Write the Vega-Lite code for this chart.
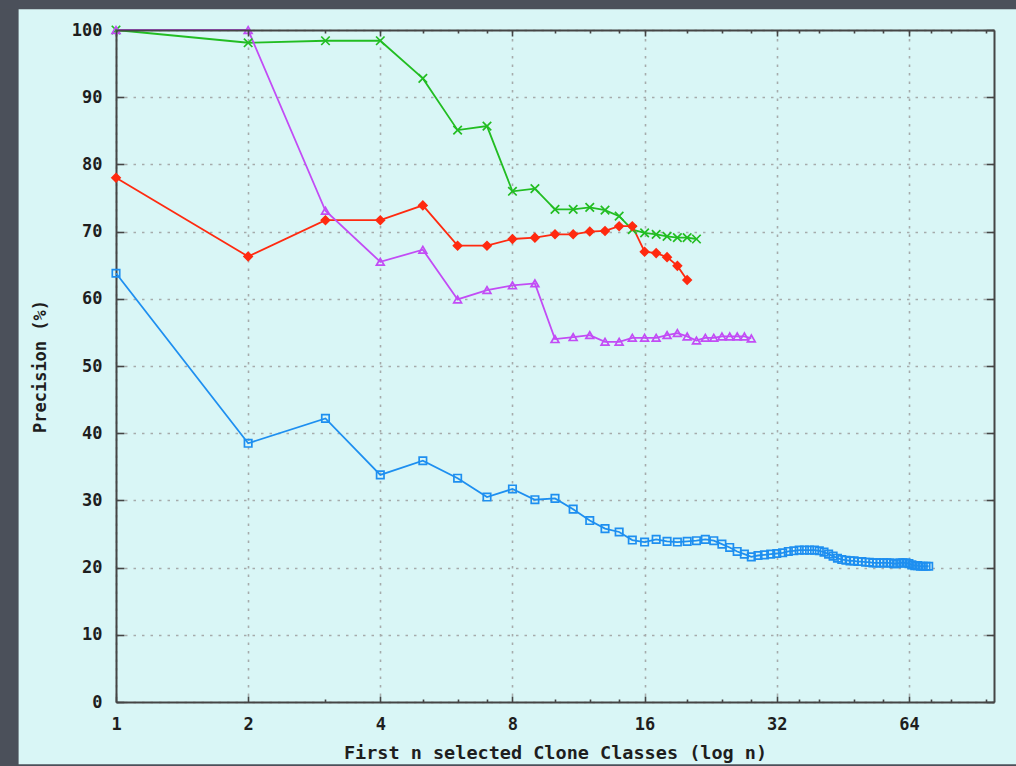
{
  "$schema": "https://vega.github.io/schema/vega-lite/v6.json",
  "width": 878,
  "height": 672,
  "padding": {"left": 116, "top": 30, "right": 22, "bottom": 64},
  "autosize": {"type": "none"},
  "background": "#d9f6f6",
  "config": {
    "view": {"stroke": null},
    "axis": {
      "domainColor": "#454545",
      "domainWidth": 2,
      "tickColor": "#454545",
      "tickWidth": 1.6,
      "gridColor": "#a6abab",
      "gridDash": [2.5, 6],
      "gridWidth": 1.6,
      "labelFont": "DejaVu Sans Mono",
      "labelFontSize": 17,
      "labelFontWeight": "bold",
      "labelColor": "#1e1e1e",
      "titleFont": "DejaVu Sans Mono",
      "titleFontSize": 17,
      "titleFontWeight": "bold",
      "titleColor": "#1e1e1e",
      "labelOverlap": false,
      "labelFlush": false
    }
  },
  "datasets": {
    "prec": [
      {"series": "green", "n": 1, "precision": 100},
      {"series": "green", "n": 2, "precision": 98.1},
      {"series": "green", "n": 3, "precision": 98.4},
      {"series": "green", "n": 4, "precision": 98.4},
      {"series": "green", "n": 5, "precision": 92.8},
      {"series": "green", "n": 6, "precision": 85.1},
      {"series": "green", "n": 7, "precision": 85.7},
      {"series": "green", "n": 8, "precision": 76.0},
      {"series": "green", "n": 9, "precision": 76.4},
      {"series": "green", "n": 10, "precision": 73.3},
      {"series": "green", "n": 11, "precision": 73.3},
      {"series": "green", "n": 12, "precision": 73.6},
      {"series": "green", "n": 13, "precision": 73.2},
      {"series": "green", "n": 14, "precision": 72.3},
      {"series": "green", "n": 15, "precision": 70.3},
      {"series": "green", "n": 16, "precision": 69.8},
      {"series": "green", "n": 17, "precision": 69.6},
      {"series": "green", "n": 18, "precision": 69.3},
      {"series": "green", "n": 19, "precision": 69.1},
      {"series": "green", "n": 20, "precision": 69.1},
      {"series": "green", "n": 21, "precision": 68.9},
      {"series": "red", "n": 1, "precision": 78.0},
      {"series": "red", "n": 2, "precision": 66.3},
      {"series": "red", "n": 3, "precision": 71.7},
      {"series": "red", "n": 4, "precision": 71.7},
      {"series": "red", "n": 5, "precision": 73.9},
      {"series": "red", "n": 6, "precision": 67.9},
      {"series": "red", "n": 7, "precision": 67.9},
      {"series": "red", "n": 8, "precision": 68.9},
      {"series": "red", "n": 9, "precision": 69.1},
      {"series": "red", "n": 10, "precision": 69.6},
      {"series": "red", "n": 11, "precision": 69.6},
      {"series": "red", "n": 12, "precision": 70.0},
      {"series": "red", "n": 13, "precision": 70.1},
      {"series": "red", "n": 14, "precision": 70.8},
      {"series": "red", "n": 15, "precision": 70.8},
      {"series": "red", "n": 16, "precision": 67.0},
      {"series": "red", "n": 17, "precision": 66.8},
      {"series": "red", "n": 18, "precision": 66.2},
      {"series": "red", "n": 19, "precision": 64.9},
      {"series": "red", "n": 20, "precision": 62.8},
      {"series": "purple", "n": 1, "precision": 100},
      {"series": "purple", "n": 2, "precision": 100},
      {"series": "purple", "n": 3, "precision": 73.1},
      {"series": "purple", "n": 4, "precision": 65.5},
      {"series": "purple", "n": 5, "precision": 67.3},
      {"series": "purple", "n": 6, "precision": 59.9},
      {"series": "purple", "n": 7, "precision": 61.3},
      {"series": "purple", "n": 8, "precision": 62.0},
      {"series": "purple", "n": 9, "precision": 62.3},
      {"series": "purple", "n": 10, "precision": 54.0},
      {"series": "purple", "n": 11, "precision": 54.3},
      {"series": "purple", "n": 12, "precision": 54.6},
      {"series": "purple", "n": 13, "precision": 53.6},
      {"series": "purple", "n": 14, "precision": 53.6},
      {"series": "purple", "n": 15, "precision": 54.2},
      {"series": "purple", "n": 16, "precision": 54.2},
      {"series": "purple", "n": 17, "precision": 54.2},
      {"series": "purple", "n": 18, "precision": 54.6},
      {"series": "purple", "n": 19, "precision": 54.9},
      {"series": "purple", "n": 20, "precision": 54.4},
      {"series": "purple", "n": 21, "precision": 53.8},
      {"series": "purple", "n": 22, "precision": 54.2},
      {"series": "purple", "n": 23, "precision": 54.2},
      {"series": "purple", "n": 24, "precision": 54.4},
      {"series": "purple", "n": 25, "precision": 54.4},
      {"series": "purple", "n": 26, "precision": 54.4},
      {"series": "purple", "n": 27, "precision": 54.4},
      {"series": "purple", "n": 28, "precision": 54.1},
      {"series": "blue", "n": 1, "precision": 63.8},
      {"series": "blue", "n": 2, "precision": 38.5},
      {"series": "blue", "n": 3, "precision": 42.2},
      {"series": "blue", "n": 4, "precision": 33.8},
      {"series": "blue", "n": 5, "precision": 35.9},
      {"series": "blue", "n": 6, "precision": 33.3},
      {"series": "blue", "n": 7, "precision": 30.5},
      {"series": "blue", "n": 8, "precision": 31.7},
      {"series": "blue", "n": 9, "precision": 30.1},
      {"series": "blue", "n": 10, "precision": 30.3},
      {"series": "blue", "n": 11, "precision": 28.7},
      {"series": "blue", "n": 12, "precision": 27.0},
      {"series": "blue", "n": 13, "precision": 25.8},
      {"series": "blue", "n": 14, "precision": 25.3},
      {"series": "blue", "n": 15, "precision": 24.1},
      {"series": "blue", "n": 16, "precision": 23.8},
      {"series": "blue", "n": 17, "precision": 24.2},
      {"series": "blue", "n": 18, "precision": 23.9},
      {"series": "blue", "n": 19, "precision": 23.8},
      {"series": "blue", "n": 20, "precision": 23.9},
      {"series": "blue", "n": 21, "precision": 24.0},
      {"series": "blue", "n": 22, "precision": 24.2},
      {"series": "blue", "n": 23, "precision": 24.0},
      {"series": "blue", "n": 24, "precision": 23.5},
      {"series": "blue", "n": 25, "precision": 23.0},
      {"series": "blue", "n": 26, "precision": 22.4},
      {"series": "blue", "n": 27, "precision": 22.0},
      {"series": "blue", "n": 28, "precision": 21.6},
      {"series": "blue", "n": 29, "precision": 21.8},
      {"series": "blue", "n": 30, "precision": 21.9},
      {"series": "blue", "n": 31, "precision": 22.0},
      {"series": "blue", "n": 32, "precision": 22.1},
      {"series": "blue", "n": 33, "precision": 22.2},
      {"series": "blue", "n": 34, "precision": 22.4},
      {"series": "blue", "n": 35, "precision": 22.5},
      {"series": "blue", "n": 36, "precision": 22.6},
      {"series": "blue", "n": 37, "precision": 22.6},
      {"series": "blue", "n": 38, "precision": 22.6},
      {"series": "blue", "n": 39, "precision": 22.6},
      {"series": "blue", "n": 40, "precision": 22.5},
      {"series": "blue", "n": 41, "precision": 22.3},
      {"series": "blue", "n": 42, "precision": 22.0},
      {"series": "blue", "n": 43, "precision": 21.7},
      {"series": "blue", "n": 44, "precision": 21.4},
      {"series": "blue", "n": 45, "precision": 21.2},
      {"series": "blue", "n": 46, "precision": 21.1},
      {"series": "blue", "n": 47, "precision": 21.0},
      {"series": "blue", "n": 48, "precision": 21.0},
      {"series": "blue", "n": 49, "precision": 20.9},
      {"series": "blue", "n": 50, "precision": 20.9},
      {"series": "blue", "n": 51, "precision": 20.8},
      {"series": "blue", "n": 52, "precision": 20.8},
      {"series": "blue", "n": 53, "precision": 20.7},
      {"series": "blue", "n": 54, "precision": 20.7},
      {"series": "blue", "n": 55, "precision": 20.7},
      {"series": "blue", "n": 56, "precision": 20.7},
      {"series": "blue", "n": 57, "precision": 20.7},
      {"series": "blue", "n": 58, "precision": 20.7},
      {"series": "blue", "n": 59, "precision": 20.6},
      {"series": "blue", "n": 60, "precision": 20.6},
      {"series": "blue", "n": 61, "precision": 20.7},
      {"series": "blue", "n": 62, "precision": 20.7},
      {"series": "blue", "n": 63, "precision": 20.7},
      {"series": "blue", "n": 64, "precision": 20.6},
      {"series": "blue", "n": 65, "precision": 20.4},
      {"series": "blue", "n": 66, "precision": 20.3},
      {"series": "blue", "n": 67, "precision": 20.3},
      {"series": "blue", "n": 68, "precision": 20.2},
      {"series": "blue", "n": 69, "precision": 20.2},
      {"series": "blue", "n": 70, "precision": 20.2},
      {"series": "blue", "n": 71, "precision": 20.2}
    ]
  },
  "layer": [
    {
      "data": {"values": [{}]},
      "mark": {"type": "rect", "color": "#4b505a"},
      "encoding": {
        "x": {"datum": 0.4, "type": "quantitative", "scale": {"type": "log", "base": 2, "domain": [1, 100], "nice": false}, "axis": null},
        "x2": {"datum": 0.6},
        "y": {"datum": 115, "type": "quantitative", "scale": {"domain": [0, 100], "nice": false}, "axis": null},
        "y2": {"datum": -15}
      }
    },
    {
      "data": {"values": [{}]},
      "mark": {"type": "rect", "color": "#4b505a"},
      "encoding": {
        "x": {"datum": 0.4, "type": "quantitative", "axis": null},
        "x2": {"datum": 200},
        "y": {"datum": 115, "type": "quantitative", "axis": null},
        "y2": {"datum": 103.1}
      }
    },
    {
      "data": {"values": [{}]},
      "mark": {"type": "rect", "color": "#4b505a"},
      "encoding": {
        "x": {"datum": 0.4, "type": "quantitative", "axis": null},
        "x2": {"datum": 200},
        "y": {"datum": -9.25, "type": "quantitative", "axis": null},
        "y2": {"datum": -15}
      }
    },
    {
      "data": {"name": "prec"},
      "mark": {"type": "line", "strokeWidth": 1.8},
      "encoding": {
        "x": {
          "field": "n", "type": "quantitative",
          "scale": {"type": "log", "base": 2, "domain": [1, 100], "nice": false},
          "axis": {
            "orient": "bottom",
            "grid": true,
            "title": "First n selected Clone Classes (log n)",
            "titleFontSize": 18.5,
            "titlePadding": 8,
            "values": [1, 2, 3, 4, 5, 6, 7, 8, 10, 12, 14, 16, 20, 24, 28, 32, 36, 40, 48, 56, 64, 72, 80, 96],
            "format": "d",
            "labelExpr": "indexof([1, 2, 4, 8, 16, 32, 64], datum.value) >= 0 ? datum.label : ''",
            "gridOpacity": {"condition": {"test": "indexof([1, 2, 4, 8, 16, 32, 64], datum.value) >= 0", "value": 1}, "value": 0},
            "tickSize": {"condition": {"test": "indexof([1, 2, 4, 8, 16, 32, 64], datum.value) >= 0", "value": -6}, "value": -3},
            "labelPadding": 20,
            "labelDx": 4
          }
        },
        "y": {
          "field": "precision", "type": "quantitative",
          "scale": {"domain": [0, 100], "nice": false},
          "axis": {
            "orient": "left",
            "grid": true,
            "title": "Precision (%)",
            "titlePadding": 22,
            "values": [0, 10, 20, 30, 40, 50, 60, 70, 80, 90, 100],
            "tickSize": -8,
            "labelPadding": 22
          }
        },
        "color": {
          "field": "series", "type": "nominal",
          "scale": {"domain": ["green", "red", "purple", "blue"], "range": ["#22bd22", "#ff2a10", "#c24cf5", "#1e8ff0"]},
          "legend": null
        },
        "order": {"field": "n"}
      }
    },
    {
      "data": {"name": "prec"},
      "mark": {"type": "point", "filled": false, "strokeWidth": 1.7, "opacity": 1},
      "encoding": {
        "x": {
          "field": "n", "type": "quantitative",
          "axis": {
            "orient": "top",
            "zindex": 1,
            "title": null,
            "labels": false,
            "grid": false,
            "values": [1, 2, 3, 4, 5, 6, 7, 8, 10, 12, 14, 16, 20, 24, 28, 32, 36, 40, 48, 56, 64, 72, 80, 96],
            "tickSize": {"condition": {"test": "indexof([1, 2, 4, 8, 16, 32, 64], datum.value) >= 0", "value": -6}, "value": -3}
          }
        },
        "y": {
          "field": "precision", "type": "quantitative",
          "axis": {
            "orient": "right",
            "zindex": 1,
            "title": null,
            "labels": false,
            "grid": false,
            "values": [0, 10, 20, 30, 40, 50, 60, 70, 80, 90, 100],
            "tickSize": -8
          }
        },
        "color": {"field": "series", "type": "nominal", "legend": null},
        "fill": {
          "field": "series", "type": "nominal",
          "scale": {"domain": ["green", "red", "purple", "blue"], "range": ["transparent", "#ff2a10", "transparent", "transparent"]},
          "legend": null
        },
        "shape": {
          "field": "series", "type": "nominal",
          "scale": {"domain": ["green", "red", "purple", "blue"], "range": ["M-1,-1L1,1M-1,1L1,-1", "diamond", "triangle-up", "square"]},
          "legend": null
        },
        "size": {
          "field": "series", "type": "nominal",
          "scale": {"domain": ["green", "red", "purple", "blue"], "range": [72, 55, 95, 55]},
          "legend": null
        }
      }
    }
  ],
  "resolve": {"axis": {"x": "independent", "y": "independent"}}
}
